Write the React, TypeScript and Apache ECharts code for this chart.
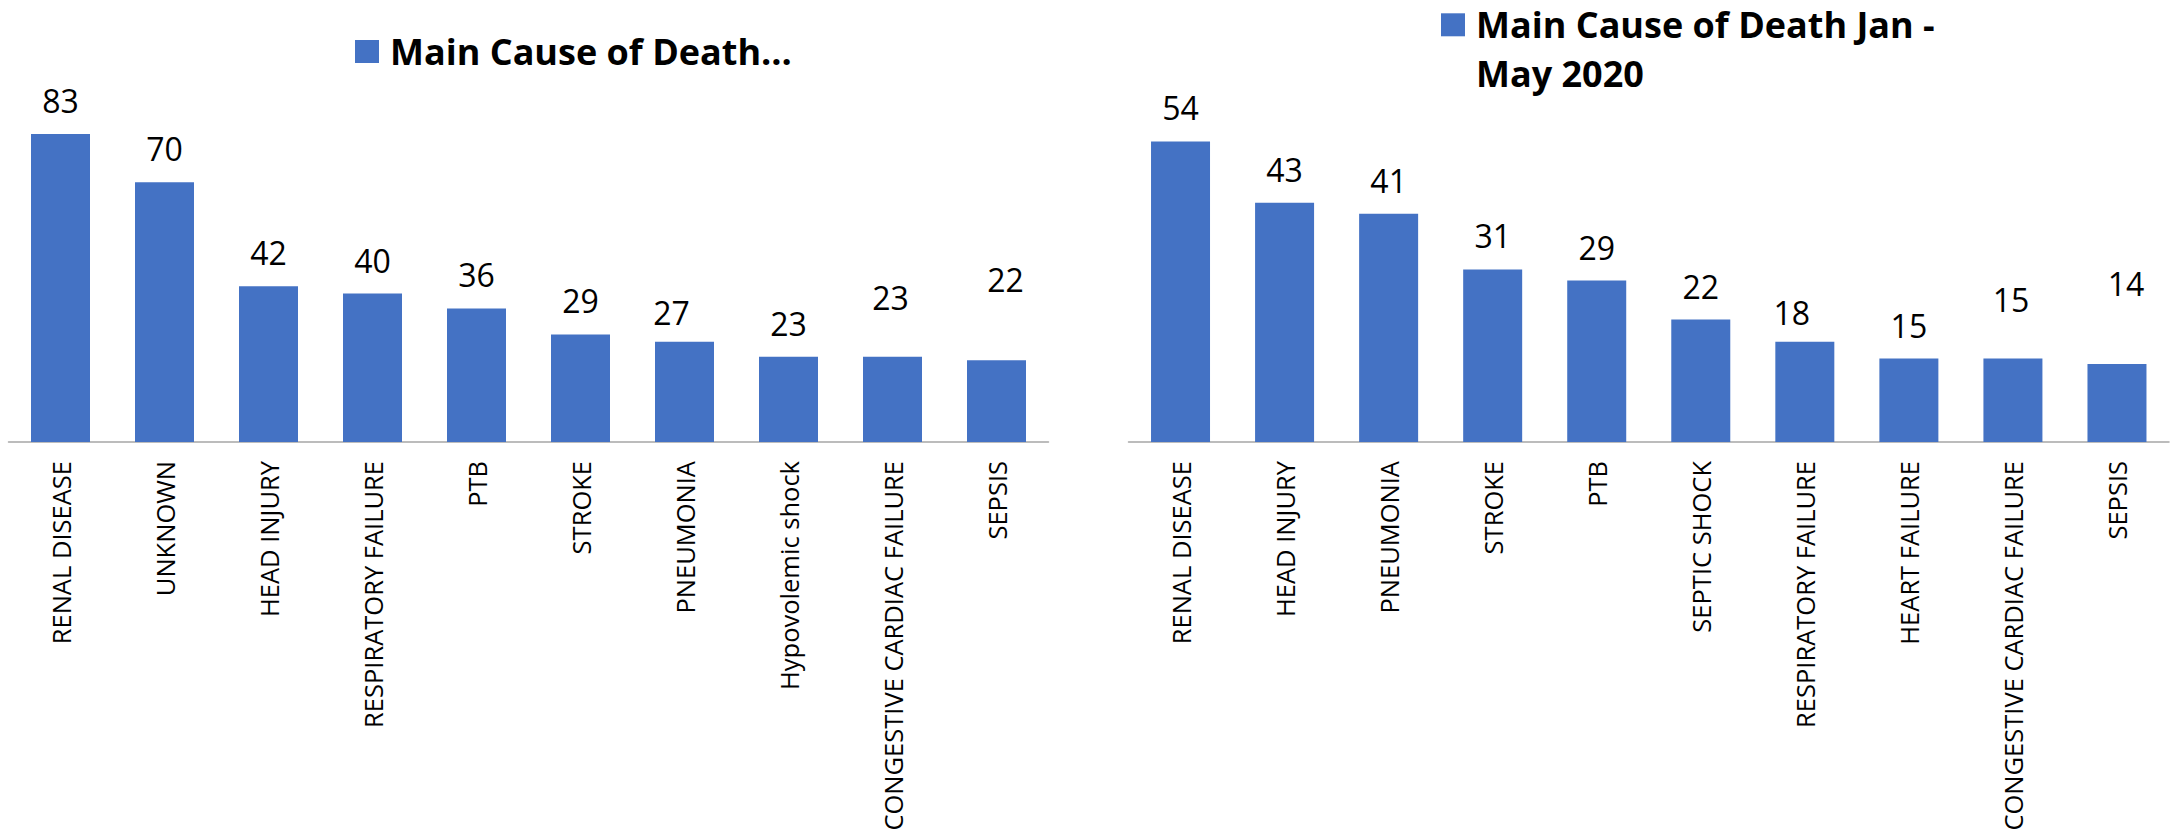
import React, { useEffect, useRef } from "react";
import * as echarts from "echarts";

// ---- data ----
const leftCategories = [
  "RENAL DISEASE",
  "UNKNOWN",
  "HEAD INJURY",
  "RESPIRATORY FAILURE",
  "PTB",
  "STROKE",
  "PNEUMONIA",
  "Hypovolemic shock",
  "CONGESTIVE CARDIAC FAILURE",
  "SEPSIS",
];
const leftValues = [83, 70, 42, 40, 36, 29, 27, 23, 23, 22];
const leftSeriesName = "Main Cause of Death…";

const rightCategories = [
  "RENAL DISEASE",
  "HEAD INJURY",
  "PNEUMONIA",
  "STROKE",
  "PTB",
  "SEPTIC SHOCK",
  "RESPIRATORY FAILURE",
  "HEART FAILURE",
  "CONGESTIVE CARDIAC FAILURE",
  "SEPSIS",
];
const rightValues = [54, 43, 41, 31, 29, 22, 18, 15, 15, 14];
const rightLegendLines = ["Main Cause of Death Jan -", "May 2020"];
const rightSeriesName = rightLegendLines.join(" ");

// ---- style (label nudges as placed in the original, per category position) ----
const labelShift: [number, number][] = [
  [0, 0],
  [0, 0],
  [0, 0],
  [0, 0],
  [0, 0],
  [0, 0],
  [-13, 4],
  [0, 0],
  [-2, -26],
  [9, -47],
];

const BAR_COLOR = "#4472C4";
const FONT = "'Open Sans', 'Noto Sans', sans-serif";

function buildData(values: number[]) {
  return values.map((v, i) => ({
    value: v,
    label: { offset: labelShift[i] },
  }));
}

function xAxisFor(gridIndex: number, cats: string[]) {
  return {
    type: "category",
    gridIndex,
    data: cats,
    axisTick: { show: false },
    axisLine: { show: true, lineStyle: { color: "#A6A6A6", width: 1.5 } },
    axisLabel: {
      interval: 0,
      rotate: 90,
      margin: 19,
      fontSize: 25.5,
      fontFamily: FONT,
      color: "#000",
    },
    splitLine: { show: false },
  };
}

function seriesLabel() {
  return {
    show: true,
    position: "top",
    distance: 17.5,
    fontSize: 32,
    lineHeight: 32,
    fontFamily: FONT,
    color: "#000",
  };
}

export default function App() {
  const ref = useRef<HTMLDivElement>(null);

  useEffect(() => {
    if (!ref.current) return;
    const chart = echarts.init(ref.current, undefined, { renderer: "svg" });
    chart.setOption({
      animation: false,
      backgroundColor: "#ffffff",
      legend: [
        {
          data: [leftSeriesName],
          left: 355,
          top: 27.5,
          padding: 0,
          itemWidth: 24,
          itemHeight: 23,
          itemGap: 0,
          selectedMode: false,
          icon: "rect",
          textStyle: {
            fontFamily: FONT,
            fontWeight: "bold",
            fontSize: 36,
            lineHeight: 48,
            color: "#000",
            padding: [0, 0, 0, 6],
          },
        },
        {
          data: [rightSeriesName],
          left: 1441,
          top: -48.7,
          padding: 0,
          itemWidth: 24,
          itemHeight: 23,
          itemGap: 0,
          selectedMode: false,
          icon: "rect",
          // an empty first line keeps the first real line level with the icon
          formatter: () => ["", ...rightLegendLines].join("\n"),
          textStyle: {
            fontFamily: FONT,
            fontWeight: "bold",
            fontSize: 36,
            lineHeight: 49,
            color: "#000",
            padding: [0, 0, 0, 6],
          },
        },
      ],
      grid: [
        { left: 8.5, width: 1040, top: 108, height: 334, containLabel: false },
        { left: 1128.5, width: 1040.5, top: 108, height: 334, containLabel: false },
      ],
      xAxis: [xAxisFor(0, leftCategories), xAxisFor(1, rightCategories)],
      yAxis: [
        { type: "value", gridIndex: 0, min: 0, max: 90, show: false },
        { type: "value", gridIndex: 1, min: 0, max: 60, show: false },
      ],
      series: [
        {
          type: "bar",
          name: leftSeriesName,
          xAxisIndex: 0,
          yAxisIndex: 0,
          data: buildData(leftValues),
          barWidth: 59,
          itemStyle: { color: BAR_COLOR },
          label: seriesLabel(),
        },
        {
          type: "bar",
          name: rightSeriesName,
          xAxisIndex: 1,
          yAxisIndex: 1,
          data: buildData(rightValues),
          barWidth: 59,
          itemStyle: { color: BAR_COLOR },
          label: seriesLabel(),
        },
      ],
    });
    return () => {
      chart.dispose();
    };
  }, []);

  return (
    <div
      ref={ref}
      style={{ position: "absolute", left: 0, top: 0, width: 2177, height: 836, background: "#fff" }}
    />
  );
}
